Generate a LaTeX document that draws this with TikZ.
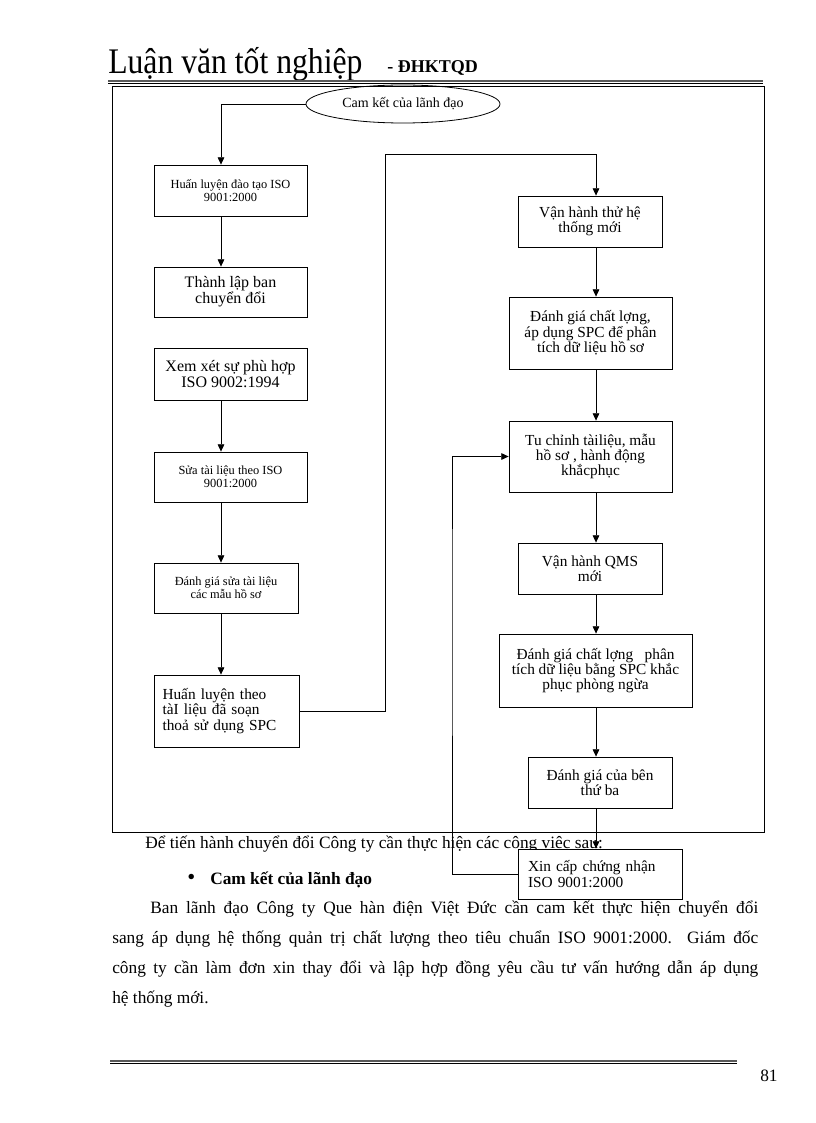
\documentclass[tikz,border=0pt]{standalone}
\usepackage{fontspec}
\setmainfont{Liberation Serif}
\newfontfamily\titlefont[FakeStretch=0.88]{Liberation Serif}
\usetikzlibrary{arrows.meta,shapes.geometric}

\tikzset{
  stage/.style={draw, rectangle, align=center, inner sep=1pt, line width=0.6pt,
    font=\fontsize{11.5}{11.5}\selectfont},
  smallstage/.style={stage, font=\fontsize{9.3}{10}\selectfont},
  boxdim/.style 2 args={minimum width=#1*0.75pt, minimum height=#2*0.75pt},
  arr/.style={line width=0.6pt, -{Triangle[width=5pt,length=5.5pt]}},
  body/.style={anchor=base west, inner sep=0pt, font=\fontsize{13}{13}\selectfont},
}

\begin{document}
\begin{tikzpicture}[x=0.75pt, y=-0.75pt]
\useasboundingbox (0,0) rectangle (816,1123);

% page header
\node[anchor=base west, inner sep=0pt, font=\titlefont\fontsize{27}{27}\selectfont] (title) at (108,74) {Luận văn tốt nghiệp};
\node[anchor=base west, inner sep=0pt, font=\fontsize{13.5}{13.5}\selectfont\bfseries] (school) at (387,73) {- ĐHKTQD};
\draw[line width=0.8pt, gray!70!black] (108,81) -- (763,81);
\draw[line width=0.5pt] (108,83.5) -- (763,83.5);

% frame of the chart
\draw[line width=0.6pt] (112,86) rectangle (764,832);

\node[ellipse, draw, line width=0.6pt, minimum width=194*0.75pt, minimum height=38*0.75pt,
  inner sep=0pt, font=\fontsize{10.5}{10.5}\selectfont] (lead) at (403,104) {Cam kết của lãnh đạo};

% left column
\node[smallstage, boxdim={153}{51}] (b1) at (230.5,190.5) {Huấn luyện đào tạo ISO\\9001:2000};
\node[stage, font=\fontsize{12}{12}\selectfont, boxdim={153}{50}] (b2) at (230.5,292) {Thành lập ban\\chuyển đổi};
\node[stage, font=\fontsize{12}{12}\selectfont, boxdim={153}{52}] (b3) at (230.5,374) {Xem xét sự phù hợp\\ISO 9002:1994};
\node[smallstage, boxdim={153}{50}] (b4) at (230.5,477) {Sửa tài liệu theo ISO\\9001:2000};
\node[smallstage, boxdim={144}{50}] (b5) at (226,588) {Đánh giá sửa tài liệu\\các mẫu hồ sơ};
\node[stage, align=left, text width=128*0.75pt, boxdim={145}{72}] (b6) at (226.5,711) {Huấn luyện theo\\tàI liệu đã soạn\\thoả sử dụng SPC};

% right column
\node[stage, boxdim={144}{51}] (b7) at (590,221.5) {Vận hành thử hệ\\thống mới};
\node[stage, boxdim={163}{72}] (b8) at (590.5,333) {Đánh giá chất lợng,\\áp dụng SPC để phân\\tích dữ liệu hồ sơ};
\node[stage, boxdim={163}{71}] (b9) at (590.5,456.5) {Tu chỉnh tàiliệu, mẫu\\hồ sơ , hành động\\khắcphục};
\node[stage, boxdim={144}{51}] (b10) at (590,568.5) {Vận hành QMS\\mới};
\node[stage, boxdim={193}{73}] (b11) at (595.5,670.5) {Đánh giá chất lợng\ \ \ phân\\tích dữ liệu bằng SPC khắc\\phục phòng ngừa};
\node[stage, boxdim={144}{51}] (b12) at (600,782.5) {Đánh giá của bên\\thứ ba};

% text under the chart
\node[body] (intro) at (145,848) {Để tiến hành chuyển đổi Công ty cần thực hiện các công việc sau:};
\node[body, font=\fontsize{17}{17}\selectfont] (dot) at (187,884) {•};
\node[body, font=\fontsize{13}{13}\selectfont\bfseries] (point) at (210,884) {Cam kết của lãnh đạo};
\node[body] (par1) at (150,913) {\makebox[456pt][s]{Ban lãnh đạo Công ty Que hàn điện Việt Đức cần cam kết thực hiện chuyển đổi}};
\node[body] (par2) at (112,943) {\makebox[484.5pt][s]{sang áp dụng hệ thống quản trị chất lượng theo tiêu chuẩn ISO 9001:2000.\ \ Giám đốc}};
\node[body] (par3) at (112,973) {\makebox[484.5pt][s]{công ty cần làm đơn xin thay đổi và lập hợp đồng yêu cầu tư vấn hướng dẫn áp dụng}};
\node[body] (par4) at (112,1003) {hệ thống mới.};

\node[stage, fill=white, align=left, text width=144*0.75pt, boxdim={164}{50}] (b13) at (600,874) {Xin cấp chứng nhận\\ISO 9001:2000};

% connectors
\coordinate (lx) at (221,0);
\coordinate (rx) at (596,0);
\coordinate (upA) at (385,154);
\coordinate (fb) at (452,600);

\draw[arr] (lead.west) -| (b1.north -| lx);
\foreach \a/\b in {b1/b2,b3/b4,b4/b5,b5/b6}
  \draw[arr] (\a.south -| lx) -- (\b.north -| lx);
\draw[arr] (b6.east) -| (upA) -| (b7.north -| rx);
\foreach \a/\b in {b7/b8,b8/b9,b9/b10,b10/b11,b11/b12,b12/b13}
  \draw[arr] (\a.south -| rx) -- (\b.north -| rx);
\draw[arr] (b13.west) -| (fb) |- (b9.west);

% page footer
\draw[line width=0.8pt, gray!70!black] (110,1061) -- (737,1061);
\draw[line width=0.5pt] (110,1063.5) -- (737,1063.5);
\node[body] (page) at (760,1081) {81};
\end{tikzpicture}
\end{document}
